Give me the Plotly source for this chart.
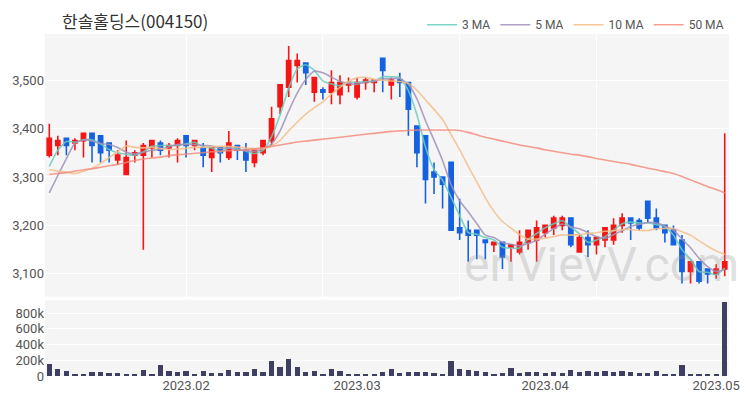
import plotly.graph_objects as go
import pandas as pd

title_text = "한솔홀딩스(004150)"
closed_days = ["2023-01-23", "2023-01-24", "2023-03-01", "2023-05-01"]
dates = [d for d in pd.bdate_range("2023-01-06", "2023-05-03")
         if d.strftime("%Y-%m-%d") not in closed_days]

open_ = [3345, 3365, 3380, 3370, 3375, 3390, 3385, 3370, 3335, 3305,
         3345, 3345, 3360, 3370, 3360, 3365, 3385, 3365, 3360, 3340,
         3360, 3340, 3365, 3355, 3330, 3350, 3375, 3445, 3485, 3530,
         3535, 3475, 3480, 3475, 3470, 3490, 3465, 3495, 3495, 3545,
         3490, 3500, 3495, 3405, 3385, 3310, 3300, 3330, 3195, 3190,
         3190, 3170, 3160, 3165, 3155, 3145, 3165, 3170, 3185, 3195,
         3200, 3215, 3145, 3175, 3160, 3170, 3170, 3200, 3215, 3210,
         3250, 3215, 3200, 3190, 3170, 3105, 3125, 3110, 3100, 3110]
high = [3410, 3385, 3380, 3380, 3390, 3390, 3385, 3370, 3355, 3375,
        3355, 3370, 3375, 3375, 3370, 3380, 3385, 3375, 3370, 3360,
        3360, 3395, 3365, 3370, 3355, 3375, 3445, 3490, 3570, 3555,
        3535, 3505, 3485, 3520, 3510, 3505, 3505, 3505, 3500, 3545,
        3505, 3515, 3495, 3405, 3385, 3330, 3300, 3330, 3255, 3210,
        3190, 3170, 3165, 3165, 3160, 3190, 3190, 3210, 3200, 3220,
        3220, 3215, 3180, 3190, 3175, 3195, 3215, 3225, 3215, 3215,
        3250, 3235, 3200, 3200, 3180, 3125, 3125, 3110, 3120, 3390]
low = [3340, 3345, 3345, 3355, 3340, 3330, 3330, 3330, 3325, 3305,
       3330, 3150, 3340, 3345, 3340, 3330, 3340, 3355, 3320, 3310,
       3330, 3335, 3335, 3310, 3320, 3345, 3365, 3430, 3465, 3495,
       3490, 3455, 3460, 3450, 3450, 3475, 3460, 3480, 3475, 3475,
       3460, 3465, 3385, 3320, 3245, 3265, 3235, 3190, 3170, 3125,
       3130, 3130, 3145, 3110, 3125, 3140, 3150, 3125, 3175, 3180,
       3190, 3155, 3145, 3135, 3140, 3155, 3160, 3185, 3170, 3190,
       3205, 3190, 3165, 3160, 3080, 3080, 3080, 3080, 3090, 3095]
close = [3380, 3375, 3365, 3375, 3390, 3365, 3350, 3355, 3345, 3340,
         3350, 3365, 3375, 3355, 3365, 3375, 3365, 3375, 3345, 3360,
         3350, 3370, 3355, 3335, 3355, 3375, 3420, 3490, 3540, 3540,
         3515, 3505, 3475, 3495, 3495, 3495, 3495, 3500, 3500, 3520,
         3500, 3495, 3440, 3350, 3295, 3300, 3285, 3190, 3185, 3180,
         3180, 3165, 3165, 3135, 3160, 3165, 3190, 3195, 3200, 3215,
         3215, 3160, 3175, 3160, 3175, 3195, 3200, 3215, 3205, 3195,
         3215, 3195, 3185, 3160, 3105, 3125, 3085, 3100, 3110, 3125]
volume = [150000, 85000, 65000, 20000, 20000, 47000, 47000, 43000, 43000, 20000,
          20000, 73000, 30000, 140000, 60000, 47000, 65000, 30000, 65000, 39000,
          39000, 75000, 47000, 56000, 86000, 47000, 195000, 118000, 215000, 108000,
          55000, 60000, 30000, 85000, 58000, 28000, 20000, 20000, 20000, 53000,
          88000, 38000, 48000, 48000, 50000, 37000, 20000, 190000, 90000, 75000,
          68000, 55000, 28000, 42000, 95000, 38000, 50000, 47000, 38000, 47000,
          33000, 75000, 50000, 58000, 55000, 63000, 53000, 58000, 56000, 38000,
          37000, 65000, 30000, 30000, 145000, 30000, 30000, 30000, 30000, 945000]

ma3 = [3322, 3355, 3373.3, 3371.7, 3376.7, 3376.7, 3368.3, 3356.7, 3350, 3346.7,
       3345, 3351.7, 3363.3, 3365, 3365, 3365, 3368.3, 3371.7, 3361.7, 3360,
       3351.7, 3360, 3358.3, 3353.3, 3348.3, 3355, 3383.3, 3428.3, 3483.3, 3523.3,
       3531.7, 3520, 3498.3, 3491.7, 3488.3, 3495, 3495, 3496.7, 3498.3, 3506.7,
       3506.7, 3505, 3478.3, 3428.3, 3361.7, 3315, 3293.3, 3258.3, 3220, 3185,
       3181.7, 3175, 3170, 3155, 3153.3, 3153.3, 3171.7, 3183.3, 3195, 3203.3,
       3210, 3196.7, 3183.3, 3165, 3170, 3176.7, 3190, 3203.3, 3206.7, 3205,
       3205, 3201.7, 3198.3, 3180, 3150, 3130, 3105, 3103.3, 3098.3, 3111.7]
ma5 = [3267, 3303, 3338, 3370, 3377, 3374, 3369, 3367, 3361, 3351,
       3348, 3351, 3355, 3357, 3362, 3367, 3367, 3367, 3365, 3364,
       3359, 3360, 3356, 3354, 3353, 3358, 3368, 3395, 3436, 3473,
       3501, 3518, 3515, 3506, 3497, 3493, 3491, 3496, 3497, 3502,
       3503, 3503, 3491, 3461, 3416, 3376, 3334, 3284, 3251, 3228,
       3204, 3180, 3175, 3165, 3161, 3158, 3163, 3169, 3182, 3193,
       3203, 3197, 3193, 3185, 3177, 3173, 3181, 3189, 3198, 3202,
       3206, 3205, 3199, 3190, 3172, 3154, 3132, 3115, 3105, 3109]
ma10 = [3315, 3312, 3310, 3307, 3312, 3318, 3328, 3340, 3352, 3364,
        3361, 3360, 3361, 3359, 3356.5, 3357.5, 3359, 3361, 3361, 3363,
        3363, 3363.5, 3361.5, 3359.5, 3358.5, 3358.5, 3364, 3375.5, 3395, 3413,
        3429.5, 3443, 3455, 3471, 3485, 3497, 3504.5, 3505.5, 3501.5, 3499.5,
        3498, 3497, 3493.5, 3479, 3459, 3439.5, 3418.5, 3387.5, 3356, 3322,
        3290, 3257, 3229.5, 3208, 3194.5, 3181, 3171.5, 3172, 3173.5, 3177,
        3180.5, 3180, 3181, 3183.5, 3185, 3188, 3189, 3191, 3191.5, 3189.5,
        3189.5, 3193, 3194, 3194, 3187, 3180, 3168.5, 3157, 3147.5, 3140.5]
ma50 = [3305, 3307, 3309, 3312, 3315, 3317, 3320, 3323, 3326, 3330,
        3334, 3337, 3339, 3341, 3344, 3346, 3347, 3349, 3350, 3352,
        3353, 3354, 3355, 3356, 3358, 3360, 3363, 3366, 3369, 3372,
        3374, 3376, 3378, 3380, 3382, 3384, 3386, 3388, 3390, 3392,
        3394, 3395, 3396, 3397, 3397, 3397, 3397, 3397, 3396, 3392,
        3387, 3382, 3378, 3374, 3370, 3366, 3363, 3360, 3356, 3353,
        3350, 3347, 3345, 3342, 3338, 3335, 3332, 3329, 3326, 3322,
        3318, 3315, 3311, 3307, 3301, 3294, 3287, 3280, 3274, 3267]

ma_names = ["3 MA", "5 MA", "10 MA", "50 MA"]
ma_series = [ma3, ma5, ma10, ma50]
ma_colors = ["rgba(102,204,190,0.85)", "rgba(160,145,185,0.85)",
             "rgba(244,190,135,0.85)", "rgba(242,135,120,0.8)"]

RED = "#f71414"
BLUE = "#1561e0"
VOL = "#3f3f62"
GRID = "#ffffff"
BG = "#f5f5f5"

# the page adds an 8px body margin, so the figure is drawn 8px smaller and offset
W, H = 742, 392

idx = list(range(len(dates)))
month_idx, month_txt = [], []
for i, d in enumerate(dates):
    if i > 0 and d.month != dates[i - 1].month:
        month_idx.append(i)
        month_txt.append(d.strftime("%Y.%m"))
grid_idx = list(range(16, len(dates), 16))

fig = go.Figure()
fig.add_trace(go.Candlestick(
    x=idx, open=open_, high=high, low=low, close=close,
    increasing=dict(line=dict(color=RED, width=1.6), fillcolor=RED),
    decreasing=dict(line=dict(color=BLUE, width=1.6), fillcolor=BLUE),
    whiskerwidth=0, showlegend=False, hoverinfo="skip",
    xaxis="x", yaxis="y"))
for name, vals, col in zip(ma_names, ma_series, ma_colors):
    fig.add_trace(go.Scatter(x=idx, y=vals, mode="lines", name=name,
                             line=dict(color=col, width=1.6, shape="spline", smoothing=0.5),
                             xaxis="x", yaxis="y", hoverinfo="skip"))
fig.add_trace(go.Bar(x=idx, y=volume, marker=dict(color=VOL, line=dict(width=0)),
                     width=0.62, showlegend=False, xaxis="x2", yaxis="y2", hoverinfo="skip"))

fig.add_annotation(text="enVievV.com", xref="paper", yref="paper",
                   x=0.61, y=0.325, xanchor="left", yanchor="middle", showarrow=False,
                   font=dict(family="Roboto", size=48, color="rgba(150,150,150,0.3)"))

axis_font = dict(family="Roboto, 'Noto Sans', sans-serif", size=13, color="#555555")
fig.update_layout(
    width=W, height=H,
    margin=dict(l=37, r=21, t=26, b=24, autoexpand=False),
    paper_bgcolor="white", plot_bgcolor=BG,
    font=dict(family="Roboto, 'Noto Sans CJK KR', sans-serif", size=12, color="#555555"),
    title=dict(text=title_text, x=54 / W, xanchor="left", y=1 - 14 / H, yanchor="middle",
               font=dict(family="'Noto Sans CJK KR', sans-serif", size=17, color="#333333")),
    legend=dict(orientation="h", x=1.0, xanchor="right", y=1.027, yanchor="middle",
                font=dict(family="Roboto, sans-serif", size=12, color="#555555"),
                bgcolor="rgba(0,0,0,0)", itemwidth=30),
    showlegend=True,
    bargap=0,
    xaxis=dict(domain=[0, 1], anchor="y", range=[-0.5, len(dates) - 0.5],
               tickvals=grid_idx, showticklabels=False, ticks="",
               showgrid=True, gridcolor=GRID, gridwidth=1, zeroline=False,
               rangeslider=dict(visible=False), fixedrange=True),
    yaxis=dict(domain=[0.232, 1], anchor="x", range=[3053, 3595], dtick=100,
               tickformat=",", showgrid=True, gridcolor=GRID, gridwidth=1,
               zeroline=False, ticks="", tickfont=axis_font, automargin=False),
    xaxis2=dict(domain=[0, 1], anchor="y2", range=[-0.5, len(dates) - 0.5],
                tickvals=month_idx, ticktext=month_txt, showgrid=False, ticks="",
                zeroline=False, tickfont=axis_font, automargin=False),
    yaxis2=dict(domain=[0, 0.222], anchor="x2", range=[0, 968000], dtick=200000,
                tickformat="~s", showgrid=True, gridcolor=GRID, gridwidth=1,
                zeroline=False, ticks="", tickfont=axis_font, automargin=False),
)

fig.write_html("out.html")
